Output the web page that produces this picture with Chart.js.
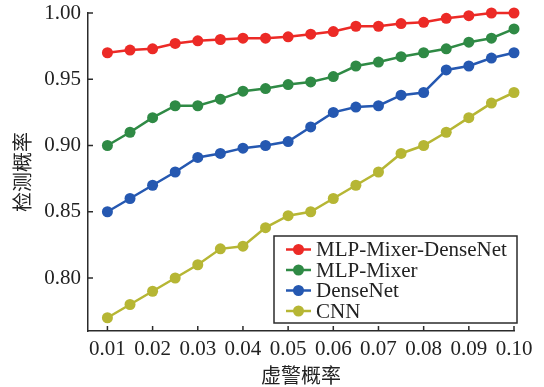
<!DOCTYPE html>
<html><head><meta charset="utf-8">
<script src="https://cdn.jsdelivr.net/npm/chart.js@4/dist/chart.umd.min.js"></script>
<style>html,body{margin:0;padding:0;background:#fff}#wrap{width:544px;height:387px}</style>
</head><body><div id="wrap"><canvas id="c" width="544" height="387"></canvas></div>
<script>
const falseAlarm = [0.010,0.015,0.020,0.025,0.030,0.035,0.040,0.045,0.050,0.055,0.060,0.065,0.070,0.075,0.080,0.085,0.090,0.095,0.100];
const mlpMixerDenseNet = [0.970,0.972,0.973,0.977,0.979,0.980,0.981,0.981,0.982,0.984,0.986,0.990,0.990,0.992,0.993,0.996,0.998,1.000,1.000];
const mlpMixer = [0.900,0.910,0.921,0.930,0.930,0.935,0.941,0.943,0.946,0.948,0.952,0.960,0.963,0.967,0.970,0.973,0.978,0.981,0.988];
const denseNet = [0.850,0.860,0.870,0.880,0.891,0.894,0.898,0.900,0.903,0.914,0.925,0.929,0.930,0.938,0.940,0.957,0.960,0.966,0.970];
const cnn = [0.770,0.780,0.790,0.800,0.810,0.822,0.824,0.838,0.847,0.850,0.860,0.870,0.880,0.894,0.900,0.910,0.921,0.932,0.940];
const seriesNames = ['MLP-Mixer-DenseNet','MLP-Mixer','DenseNet','CNN'];
const xTickValues = [0.01,0.02,0.03,0.04,0.05,0.06,0.07,0.08,0.09,0.10];
const yTickValues = [0.80,0.85,0.90,0.95,1.00];
const xTitle = '虚警概率';
const yTitle = '检测概率';

const colors = ['#ec2a26','#2f8a45','#2558b1','#b6b634'];
const serif = '"Liberation Serif","DejaVu Serif",serif';
const cjk = '"Noto Sans CJK SC","Noto Sans CJK JP",sans-serif';
const axisColor = '#2b2b2b';

const allSeries = [mlpMixerDenseNet, mlpMixer, denseNet, cnn];
const datasets = allSeries.map((vals, i) => ({
  label: seriesNames[i],
  data: vals.map((v, j) => ({x: falseAlarm[j], y: v})),
  borderColor: colors[i],
  backgroundColor: colors[i],
  pointBackgroundColor: colors[i],
  pointBorderColor: colors[i],
  pointRadius: 5.5,
  pointBorderWidth: 0,
  borderWidth: 2.5,
  tension: 0,
  clip: false
}));

const insideTicks = {
  id: 'insideTicks',
  afterDraw(chart) {
    const ctx = chart.ctx, xs = chart.scales.x, ys = chart.scales.y;
    ctx.save();
    ctx.strokeStyle = axisColor; ctx.lineWidth = 1.5;
    xTickValues.forEach(v => {
      const px = xs.getPixelForValue(v);
      ctx.beginPath(); ctx.moveTo(px, ys.bottom); ctx.lineTo(px, ys.bottom - 5); ctx.stroke();
    });
    yTickValues.forEach(v => {
      const py = ys.getPixelForValue(v);
      ctx.beginPath(); ctx.moveTo(xs.left, py); ctx.lineTo(xs.left + 5, py); ctx.stroke();
    });
    // legend box
    const bx = 274, by = 236, bw = 243, bh = 87, rowH = 20.5;
    ctx.fillStyle = '#fff';
    ctx.fillRect(bx, by, bw, bh);
    ctx.strokeStyle = axisColor; ctx.lineWidth = 1.5;
    ctx.strokeRect(bx, by, bw, bh);
    ctx.font = '21px ' + serif;
    ctx.textBaseline = 'middle';
    seriesNames.forEach((name, i) => {
      const cy = by + 13.5 + i * rowH;
      ctx.strokeStyle = colors[i]; ctx.lineWidth = 2.5;
      ctx.beginPath(); ctx.moveTo(286, cy); ctx.lineTo(311, cy); ctx.stroke();
      ctx.fillStyle = colors[i];
      ctx.beginPath(); ctx.arc(298.5, cy, 5.5, 0, Math.PI * 2); ctx.fill();
      ctx.fillStyle = '#222';
      ctx.fillText(name, 316, cy + 1);
    });
    ctx.restore();
  }
};

new Chart(document.getElementById('c'), {
  type: 'line',
  data: {datasets},
  options: {
    responsive: false,
    animation: false,
    layout: {padding: {left: 0, right: 30, top: 13, bottom: 0}},
    plugins: {legend: {display: false}, tooltip: {enabled: false}},
    scales: {
      x: {
        type: 'linear', min: 0.0057, max: 0.10,
        afterBuildTicks: s => { s.ticks = xTickValues.map(v => ({value: v})); },
        afterFit: s => { s.height = 56; s.paddingRight = 0; s.paddingLeft = 0; },
        ticks: {callback: v => v.toFixed(2), color: '#222', font: {family: serif, size: 21}, padding: 6, maxRotation: 0, autoSkip: false},
        grid: {display: true, drawOnChartArea: false, drawTicks: false},
        border: {display: true, color: axisColor, width: 1.5},
        title: {display: true, text: xTitle, color: '#222', font: {family: cjk, size: 20}, padding: {top: 3, bottom: 0}}
      },
      y: {
        type: 'linear', min: 0.76, max: 1.0,
        afterBuildTicks: s => { s.ticks = yTickValues.map(v => ({value: v})); },
        afterFit: s => { s.width = 88; s.paddingTop = 0; s.paddingBottom = 0; },
        ticks: {callback: v => v.toFixed(2), color: '#222', font: {family: serif, size: 21}, padding: 7},
        grid: {display: true, drawOnChartArea: false, drawTicks: false},
        border: {display: true, color: axisColor, width: 1.5},
        title: {display: true, text: yTitle, color: '#222', font: {family: cjk, size: 20}, padding: {top: 10, bottom: 0}}
      }
    }
  },
  plugins: [insideTicks]
});
</script></body></html>
